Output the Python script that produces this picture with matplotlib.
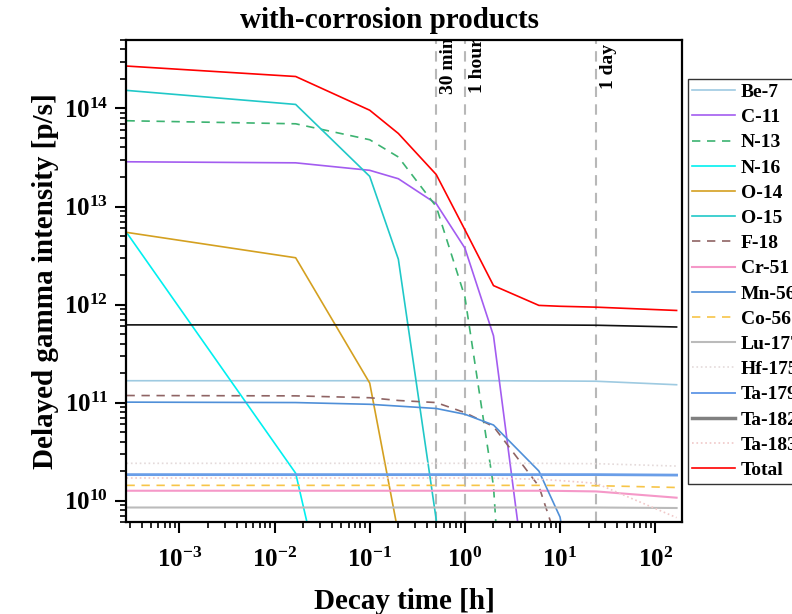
import matplotlib
matplotlib.use("Agg")
import matplotlib.pyplot as plt
import numpy as np

plt.rcParams['font.family'] = ['Liberation Serif', 'DejaVu Serif']
plt.rcParams['font.weight'] = 'bold'
plt.rcParams['mathtext.fontset'] = 'custom'
plt.rcParams['mathtext.rm'] = 'Liberation Serif:bold'
plt.rcParams['mathtext.it'] = 'Liberation Serif:bold'
plt.rcParams['mathtext.bf'] = 'Liberation Serif:bold'
plt.rcParams['mathtext.default'] = 'rm'
plt.rcParams['axes.unicode_minus'] = False

# decay times [h]
t_hours = [1/3600, 1/60, 0.1, 0.2, 0.5, 1, 2, 6, 10, 24, 168]

be7   = [1.67e11, 1.67e11, 1.67e11, 1.67e11, 1.67e11, 1.67e11, 1.67e11, 1.66e11, 1.66e11, 1.65e11, 1.52e11]
c11   = [2.86e13, 2.79e13, 2.34e13, 1.92e13, 1.07e13, 3.77e12, 4.8e11, 1.3e8, 3.5e4, 1e-8, 1e-8]
n13   = [7.5e13, 6.98e13, 4.8e13, 3.2e13, 1.0e13, 1.2e12, 1.4e10, 1.0e3, 1e-4, 1e-8, 1e-8]
n16   = [5.45e12, 1.9e10, 1.0e7, 1e-8, 1e-8, 1e-8, 1e-8, 1e-8, 1e-8, 1e-8, 1e-8]
o14   = [5.45e12, 3.0e12, 1.58e11, 4.6e9, 1e5, 1e-8, 1e-8, 1e-8, 1e-8, 1e-8, 1e-8]
o15   = [1.53e14, 1.1e14, 2.03e13, 2.9e12, 6.4e9, 1e6, 1e-2, 1e-8, 1e-8, 1e-8, 1e-8]
f18   = [1.18e11, 1.17e11, 1.12e11, 1.05e11, 1.0e11, 7.9e10, 5.7e10, 1.4e10, 3.1e9, 3e6, 1e-8]
cr51  = [1.26e10, 1.26e10, 1.26e10, 1.26e10, 1.26e10, 1.26e10, 1.26e10, 1.26e10, 1.255e10, 1.24e10, 1.07e10]
mn56  = [1.01e11, 1.0e11, 9.6e10, 9.2e10, 8.7e10, 7.6e10, 5.9e10, 2.0e10, 6.8e9, 5.5e7, 1e-8]
co56  = [1.43e10, 1.43e10, 1.43e10, 1.43e10, 1.43e10, 1.43e10, 1.43e10, 1.43e10, 1.425e10, 1.42e10, 1.36e10]
lu177 = [8.5e9, 8.5e9, 8.5e9, 8.5e9, 8.5e9, 8.5e9, 8.5e9, 8.5e9, 8.5e9, 8.5e9, 8.4e9]
hf175 = [2.4e10, 2.4e10, 2.4e10, 2.4e10, 2.4e10, 2.4e10, 2.4e10, 2.4e10, 2.39e10, 2.38e10, 2.25e10]
ta179 = [1.84e10, 1.84e10, 1.84e10, 1.84e10, 1.84e10, 1.84e10, 1.84e10, 1.84e10, 1.84e10, 1.84e10, 1.82e10]
ta182 = [6.2e11, 6.2e11, 6.2e11, 6.2e11, 6.2e11, 6.2e11, 6.2e11, 6.19e11, 6.18e11, 6.15e11, 5.9e11]
ta183 = [1.7e10, 1.7e10, 1.7e10, 1.7e10, 1.7e10, 1.7e10, 1.69e10, 1.65e10, 1.6e10, 1.5e10, 6.7e9]
total = [2.71e14, 2.12e14, 9.6e13, 5.56e13, 2.12e13, 5.8e12, 1.56e12, 9.8e11, 9.6e11, 9.4e11, 8.7e11]

labels = ['Be-7', 'C-11', 'N-13', 'N-16', 'O-14', 'O-15', 'F-18', 'Cr-51', 'Mn-56',
          'Co-56', 'Lu-177', 'Hf-175', 'Ta-179', 'Ta-182', 'Ta-183', 'Total']
series = [be7, c11, n13, n16, o14, o15, f18, cr51, mn56, co56, lu177, hf175, ta179, ta182, ta183, total]
styles = [
    dict(color='#9ecae1', ls='-', lw=1.2),
    dict(color='#a35cf0', ls='-', lw=1.2),
    dict(color='#3cb371', ls=(0, (5, 4)), lw=1.2),
    dict(color='#00f0f0', ls='-', lw=1.2),
    dict(color='#d4a020', ls='-', lw=1.2),
    dict(color='#20c8c8', ls='-', lw=1.2),
    dict(color='#8f6464', ls=(0, (5, 4)), lw=1.2),
    dict(color='#f598c8', ls='-', lw=1.5),
    dict(color='#4f8fd8', ls='-', lw=1.2),
    dict(color='#f7c548', ls=(0, (5, 4)), lw=1.2),
    dict(color='#bbbbbb', ls='-', lw=1.5),
    dict(color='#e4dada', ls=':', lw=1.2),
    dict(color='#6a9ee8', ls='-', lw=2.0),
    dict(color='#111111', ls='-', lw=1.2),
    dict(color='#f0c8c8', ls=':', lw=1.2),
    dict(color='#ff0000', ls='-', lw=1.2),
]

marks = [0.5, 1, 24]
mark_labels = ['30 min', '1 hour', '1 day']

fig = plt.figure(figsize=(7.92, 6.14), dpi=100)
ax = fig.add_axes([0.1597, 0.1493, 0.8607 - 0.1597, 0.9349 - 0.1493])

for lab, ys, st in zip(labels, series, styles):
    ax.plot(t_hours, ys, label=lab, **st)

ymax = max(total)
for m, ml in zip(marks, mark_labels):
    ax.axvline(m, color='#b8b8b8', ls=(0, (5, 3.5)), lw=1.5, zorder=0)
    ax.text(m * 1.1, ymax, ml, rotation=90, va='center', ha='left',
            fontsize=14, fontweight='bold', clip_on=True)

ax.set_xscale('log')
ax.set_yscale('log')
ax.set_xlim(1/3600, 190)
ax.set_ylim(6e9, 5e14)

ax.tick_params(axis='both', which='major', direction='out', length=8, width=1.5, labelsize=18)
ax.tick_params(axis='both', which='minor', direction='out', length=4.5, width=1.2)
ax.tick_params(axis='y', which='major', pad=5)
ax.tick_params(axis='x', which='major', pad=10)
for s in ax.spines.values():
    s.set_linewidth(1.6)

ax.set_xlabel('Decay time [h]', fontsize=21, fontweight='bold', labelpad=12)
ax.set_ylabel('Delayed gamma intensity [p/s]', fontsize=21, fontweight='bold')
fig.text(389/792, 1 - 21/614, 'with-corrosion products', ha='center', va='center',
         fontsize=21, fontweight='bold')

leg = ax.legend(loc='center left', bbox_to_anchor=(1.0, 0.5), borderaxespad=0.3,
                fontsize=14, labelspacing=0.39, handlelength=2.2, handletextpad=0.3,
                borderpad=0.25, fancybox=False, framealpha=1, edgecolor='#333333')
leg.get_frame().set_linewidth(1.0)
leg.get_lines()[12].set_linewidth(1.4)
leg.get_lines()[13].set_color('#808080')
leg.get_lines()[13].set_linewidth(2.5)

fig.savefig('out.png', dpi=100)
